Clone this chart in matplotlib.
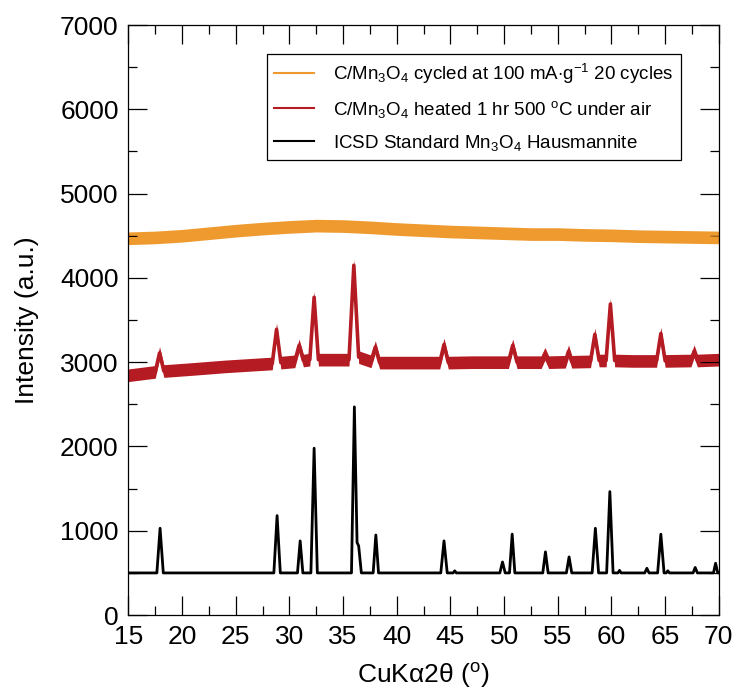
"""
XRD patterns: cycled / heated C/Mn3O4 vs ICSD Hausmannite standard.
"""

import matplotlib
matplotlib.use("Agg")
import matplotlib.pyplot as plt
from matplotlib.ticker import MultipleLocator

plt.rcParams["font.family"] = ["Liberation Sans", "DejaVu Sans"]
plt.rcParams["mathtext.fontset"] = "custom"
plt.rcParams["mathtext.rm"] = "Liberation Sans"
plt.rcParams["mathtext.it"] = "Liberation Sans:italic"
plt.rcParams["mathtext.bf"] = "Liberation Sans:bold"

# ── data ────────────────────────────────────────────────────────────────────
# orange: cycled sample (broad hump, noisy)
cyc_2theta = [15, 17.5, 20, 22.5, 25, 27.5, 30, 32.5, 35, 37.5, 40, 42.5,
              45, 47.5, 50, 52.5, 55, 57.5, 60, 62.5, 65, 67.5, 70]
cyc_int = [4470, 4480, 4500, 4530, 4560, 4585, 4605, 4620, 4615, 4600, 4580,
           4565, 4550, 4540, 4530, 4520, 4520, 4510, 4505, 4495, 4490, 4485, 4480]
cyc_noise = 75

# red: heated sample
heat_2theta = [15, 17.5, 17.9, 18.3, 21, 24, 28.4, 28.8, 29.2, 30.5, 30.9,
               31.3, 31.9, 32.3, 32.7, 35.55, 36.0, 36.45, 37.6, 38.0, 38.4,
               41, 44.0, 44.4, 44.8, 47, 50.4, 50.8, 51.2, 53.45, 53.8, 54.15,
               55.7, 56.0, 56.3, 58.05, 58.45, 58.85, 59.5, 59.9, 60.3, 62,
               64.2, 64.6, 65.0, 67.4, 67.7, 68.0, 70]
heat_int = [2845, 2885, 3110, 2895, 2920, 2950, 2985, 3390, 2995, 3010, 3200,
            3020, 3030, 3770, 3030, 3030, 4150, 3060, 3010, 3180, 2995,
            2995, 2995, 3210, 2995, 3000, 3000, 3200, 3000, 3000, 3100, 3000,
            3005, 3130, 3005, 3010, 3330, 3020, 3020, 3690, 3020, 3015,
            3015, 3340, 3015, 3020, 3130, 3020, 3030]
heat_noise = 75

# black: ICSD standard pattern
ref_2theta = [15, 17.65, 17.95, 18.25, 28.55, 28.85, 29.15, 30.75, 31.0, 31.25,
              32.0, 32.3, 32.6, 35.78, 36.05, 36.3, 36.45, 36.7, 37.8, 38.05,
              38.3, 44.1, 44.4, 44.7, 45.25, 45.4, 45.55, 49.6, 49.85, 50.1,
              50.5, 50.75, 51.0, 53.6, 53.85, 54.1, 55.8, 56.05, 56.3, 58.2,
              58.5, 58.8, 59.55, 59.85, 60.15, 60.6, 60.75, 60.9, 63.1, 63.3,
              63.5, 64.3, 64.6, 64.9, 65.1, 65.25, 65.4, 67.6, 67.8, 68.0,
              69.5, 69.7, 69.9, 70]
ref_int = [500, 500, 1030, 500, 500, 1180, 500, 500, 880, 500,
           500, 1980, 500, 500, 2470, 860, 820, 500, 500, 950,
           500, 500, 880, 500, 500, 525, 500, 500, 630, 500,
           500, 960, 500, 500, 750, 500, 500, 690, 500, 500,
           1030, 500, 500, 1465, 500, 500, 530, 500, 500, 555,
           500, 500, 960, 500, 500, 525, 500, 500, 565, 500,
           500, 615, 500, 500]

labels = [r"C/Mn$_3$O$_4$ cycled at 100 mA$\cdot$g$^{\mathrm{-1}}$ 20 cycles",
          r"C/Mn$_3$O$_4$ heated 1 hr 500 $^{\mathrm{o}}$C under air",
          r"ICSD Standard Mn$_3$O$_4$ Hausmannite"]
colors = ["#EE9A2E", "#B51B22", "black"]


def main():
    fig = plt.figure(figsize=(7.38, 6.95), dpi=100)
    ax = fig.add_axes([0.174, 0.115, 0.8, 0.849])

    # noisy traces: ribbon of the noise width + centre line
    lo = [v - cyc_noise for v in cyc_int]
    hi = [v + cyc_noise for v in cyc_int]
    ax.fill_between(cyc_2theta, lo, hi, color=colors[0], lw=0)
    ax.plot(cyc_2theta, cyc_int, color=colors[0], lw=1.5, label=labels[0])

    lo = [v - heat_noise for v in heat_int]
    hi = [v + heat_noise for v in heat_int]
    ax.fill_between(heat_2theta, lo, hi, color=colors[1], lw=0)
    ax.plot(heat_2theta, heat_int, color=colors[1], lw=2.6, label=labels[1],
            solid_joinstyle="round")

    ax.plot(ref_2theta, ref_int, color=colors[2], lw=2, label=labels[2],
            solid_joinstyle="round")

    ax.set_xlim(15, 70)
    ax.set_ylim(0, 7000)
    ax.xaxis.set_major_locator(MultipleLocator(5))
    ax.xaxis.set_minor_locator(MultipleLocator(2.5))
    ax.yaxis.set_major_locator(MultipleLocator(1000))
    ax.yaxis.set_minor_locator(MultipleLocator(500))
    ax.tick_params(which="both", direction="in", top=True, right=True,
                   width=0.9, labelsize=19, pad=7)
    ax.tick_params(which="major", length=13.5)
    ax.tick_params(which="minor", length=6.5)
    for spine in ax.spines.values():
        spine.set_linewidth(0.9)

    ax.set_xlabel(r"CuKα2θ ($^{\mathrm{o}}$)", fontsize=19, labelpad=9)
    ax.set_ylabel("Intensity (a.u.)", fontsize=19, labelpad=15)

    leg = ax.legend(loc="upper right", bbox_to_anchor=(0.936, 0.951),
                    borderaxespad=0, fontsize=13.5, handlelength=2.1,
                    handletextpad=1.05, borderpad=0.4, labelspacing=0.7,
                    fancybox=False, framealpha=1)
    leg.get_frame().set_edgecolor("black")
    leg.get_frame().set_linewidth(0.9)
    for line in leg.get_lines():
        line.set_linewidth(1.5)

    fig.savefig("out.png", dpi=100)
    plt.close(fig)


if __name__ == "__main__":
    main()
